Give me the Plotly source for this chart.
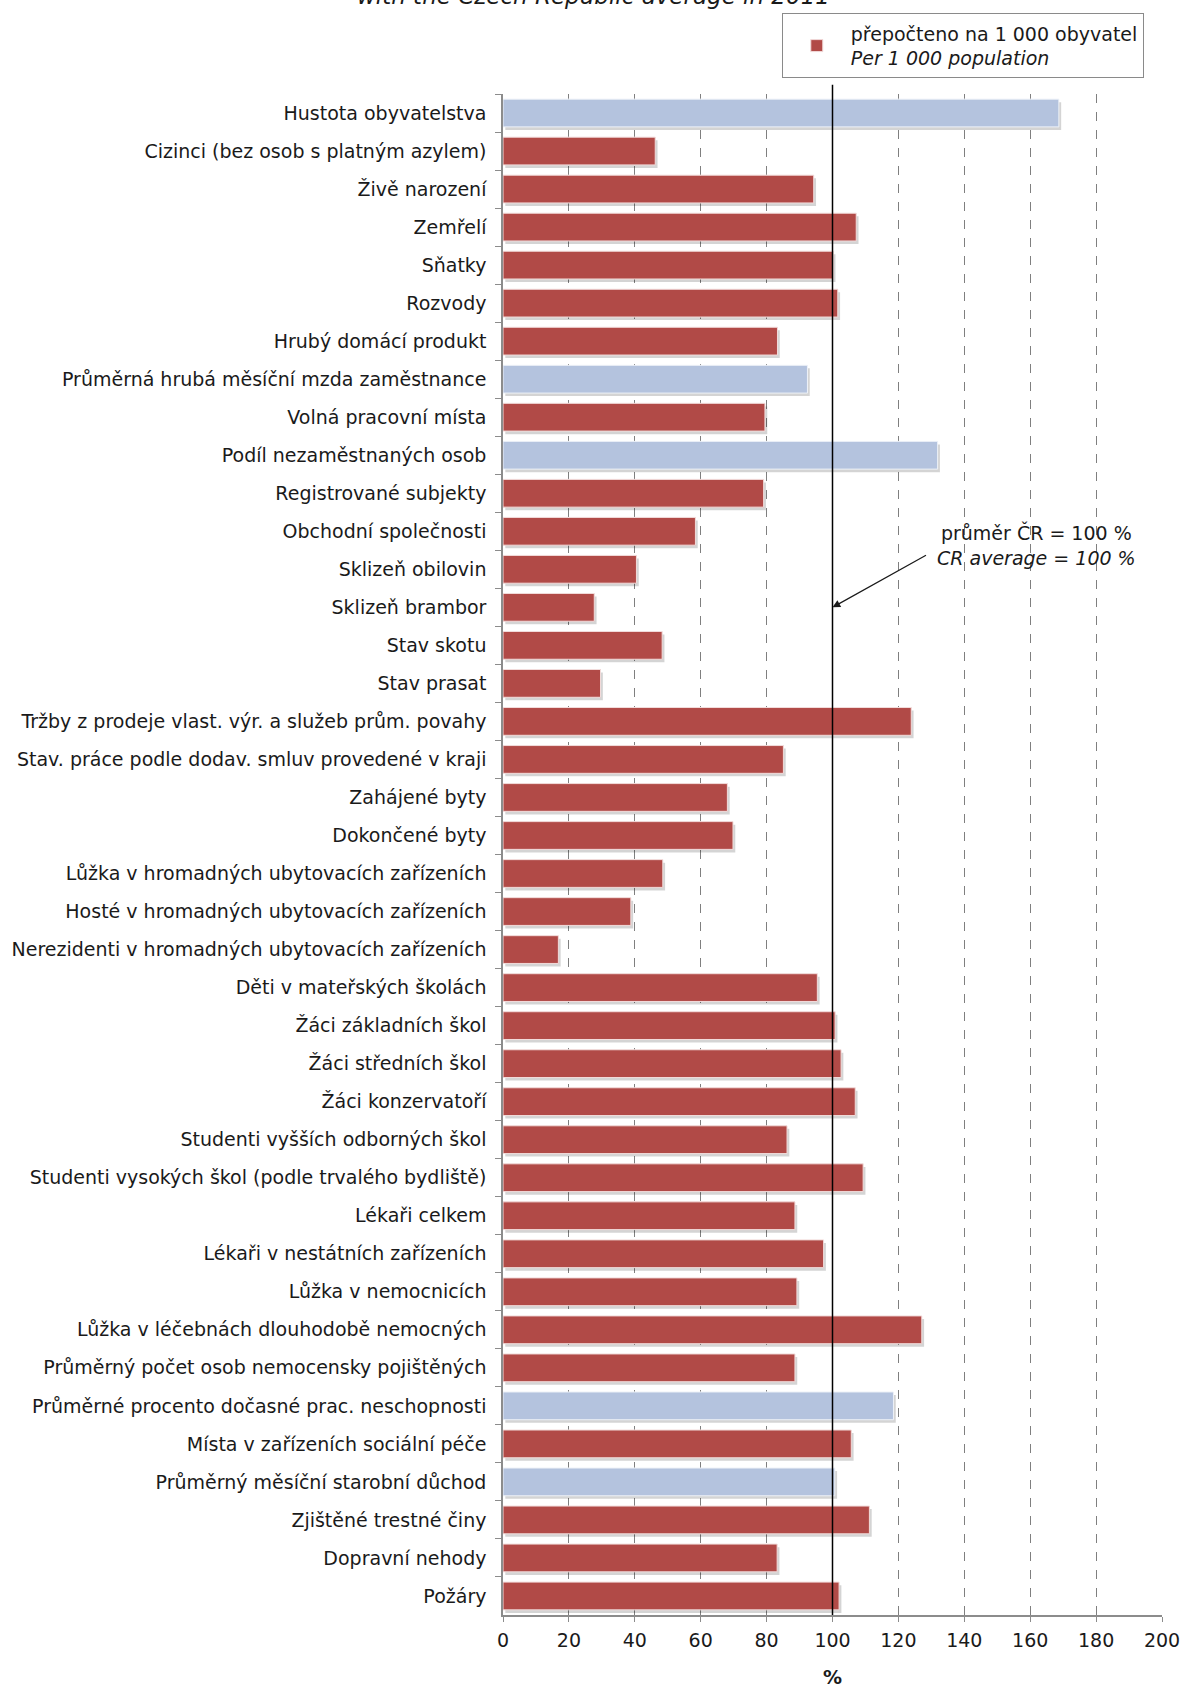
import plotly.graph_objects as go

categories = [
    "Hustota obyvatelstva",
    "Cizinci (bez osob s platným azylem)",
    "Živě narození",
    "Zemřelí",
    "Sňatky",
    "Rozvody",
    "Hrubý domácí produkt",
    "Průměrná hrubá měsíční mzda zaměstnance",
    "Volná pracovní místa",
    "Podíl nezaměstnaných osob",
    "Registrované subjekty",
    "Obchodní společnosti",
    "Sklizeň obilovin",
    "Sklizeň brambor",
    "Stav skotu",
    "Stav prasat",
    "Tržby z prodeje vlast. výr. a služeb prům. povahy",
    "Stav. práce podle dodav. smluv provedené v kraji",
    "Zahájené byty",
    "Dokončené byty",
    "Lůžka v hromadných ubytovacích zařízeních",
    "Hosté v hromadných ubytovacích zařízeních",
    "Nerezidenti v hromadných ubytovacích zařízeních",
    "Děti v mateřských školách",
    "Žáci základních škol",
    "Žáci středních škol",
    "Žáci konzervatoří",
    "Studenti vyšších odborných škol",
    "Studenti vysokých škol (podle trvalého bydliště)",
    "Lékaři celkem",
    "Lékaři v nestátních zařízeních",
    "Lůžka v nemocnicích",
    "Lůžka v léčebnách dlouhodobě nemocných",
    "Průměrný počet osob nemocensky pojištěných",
    "Průměrné procento dočasné prac. neschopnosti",
    "Místa v zařízeních sociální péče",
    "Průměrný měsíční starobní důchod",
    "Zjištěné trestné činy",
    "Dopravní nehody",
    "Požáry",
]

values = [
    168.7, 46.2, 94.3, 107.2, 100.2, 101.6, 83.3, 92.4, 79.5, 131.9,
    79.1, 58.4, 40.5, 27.7, 48.3, 29.6, 123.9, 85.1, 68.1, 69.8,
    48.5, 38.8, 16.8, 95.4, 100.8, 102.6, 106.9, 86.2, 109.3, 88.6,
    97.3, 89.2, 127.1, 88.6, 118.5, 105.7, 100.7, 111.2, 83.2, 102.0,
]

# True = recalculated per 1 000 population (red), False = other indicator (light blue)
per_1000 = [
    False, True, True, True, True, True, True, False, True, False,
    True, True, True, True, True, True, True, True, True, True,
    True, True, True, True, True, True, True, True, True, True,
    True, True, True, True, False, True, False, True, True, True,
]

x_ticks = [0, 20, 40, 60, 80, 100, 120, 140, 160, 180, 200]

legend_text = "přepočteno na 1 000 obyvatel<br><i>Per 1 000 population</i>"
avg_text = "průměr ČR = 100 %<br><i>CR average = 100 %</i>"
title_text = "<i>with the Czech Republic average in 2011</i>"

RED = "#B14A47"
BLUE = "#B4C3DE"
FONT = "DejaVu Sans"
TXT = "#1a1a1a"

red_vals = [v if p else None for v, p in zip(values, per_1000)]
blue_vals = [v if not p else None for v, p in zip(values, per_1000)]

L, R, T, B = 503, 21.5, 93.6, 73
H = 1688
plot_h = H - T - B
plot_w = 1184 - L - R

W = 0.73
fig = go.Figure()
# soft shadow under bars
fig.add_trace(go.Bar(
    y=categories, x=values, base=0.7, orientation="h",
    width=W, offset=-W / 2 + 0.08,
    marker=dict(color="rgba(0,0,0,0.17)", line=dict(width=0)),
    showlegend=False, hoverinfo="skip",
))
fig.add_trace(go.Bar(
    y=categories, x=red_vals, orientation="h", width=W, offset=-W / 2,
    marker=dict(color=RED, line=dict(color="#F2DCDB", width=1)),
    name=legend_text, showlegend=True,
))
fig.add_trace(go.Bar(
    y=categories, x=blue_vals, orientation="h", width=W, offset=-W / 2,
    marker=dict(color=BLUE, line=dict(color="#EEF2F8", width=1)),
    showlegend=False,
))

# CR average line at 100
fig.add_shape(type="line", xref="x", yref="paper", x0=100, x1=100, y0=0, y1=1.006,
              line=dict(color="black", width=1.5), layer="above")

# arrow pointing to the average line
fig.add_annotation(x=100, y="Sklizeň brambor", xref="x", yref="y", text="",
                   showarrow=True, arrowhead=2, arrowsize=1.3, arrowwidth=1.2,
                   arrowcolor="#1a1a1a", ax=95, ay=-53, axref="pixel", ayref="pixel")
fig.add_annotation(x=162, y=(H - B - 545) / plot_h, xref="x", yref="paper", text=avg_text,
                   showarrow=False, xanchor="center", yanchor="middle", align="center",
                   font=dict(family=FONT, size=19, color=TXT))

# partially visible subtitle at the very top
fig.add_annotation(x=(594 - L) / plot_w, y=(H - B + 4) / plot_h, xref="paper", yref="paper",
                   text=title_text, showarrow=False, xanchor="center", yanchor="middle",
                   font=dict(family=FONT, size=23, color=TXT))

fig.update_layout(
    width=1184, height=H,
    margin=dict(l=L, r=R, t=T, b=B, pad=0, autoexpand=False),
    paper_bgcolor="white", plot_bgcolor="white",
    barmode="overlay",
    font=dict(family=FONT, size=19, color=TXT),
    showlegend=True,
    legend=dict(
        x=(782 - L) / plot_w, y=(H - B - 13) / plot_h, xanchor="left", yanchor="top",
        bgcolor="white", bordercolor="#8a8a8a", borderwidth=1,
        font=dict(family=FONT, size=19, color=TXT),
        itemwidth=58, tracegroupgap=0,
    ),
    xaxis=dict(
        range=[0, 200], tickvals=x_ticks, ticktext=[str(t) for t in x_ticks],
        showgrid=True, gridcolor="#7f7f7f", griddash="dash", gridwidth=1,
        zeroline=False, showline=True, linecolor="#8c8c8c", linewidth=1.5,
        ticks="outside", ticklen=5, tickcolor="#8c8c8c",
        ticklabelstandoff=2, automargin=False,
        tickfont=dict(family=FONT, size=19, color=TXT),
        title=dict(text="<b>%</b>", standoff=22, font=dict(family=FONT, size=19, color=TXT)),
        fixedrange=True,
    ),
    yaxis=dict(
        type="category", autorange="reversed",
        showgrid=False, zeroline=False, showline=True, linecolor="#8c8c8c", linewidth=1.5,
        ticks="outside", tickson="boundaries", ticklen=6, tickcolor="#8c8c8c",
        ticklabelstandoff=11, automargin=False,
        tickfont=dict(family=FONT, size=19, color=TXT),
        fixedrange=True,
    ),
)

fig.write_html(
    "out.html",
    config={"displayModeBar": False},
    post_script="document.body.style.margin='0px';document.body.style.overflow='hidden';",
)
